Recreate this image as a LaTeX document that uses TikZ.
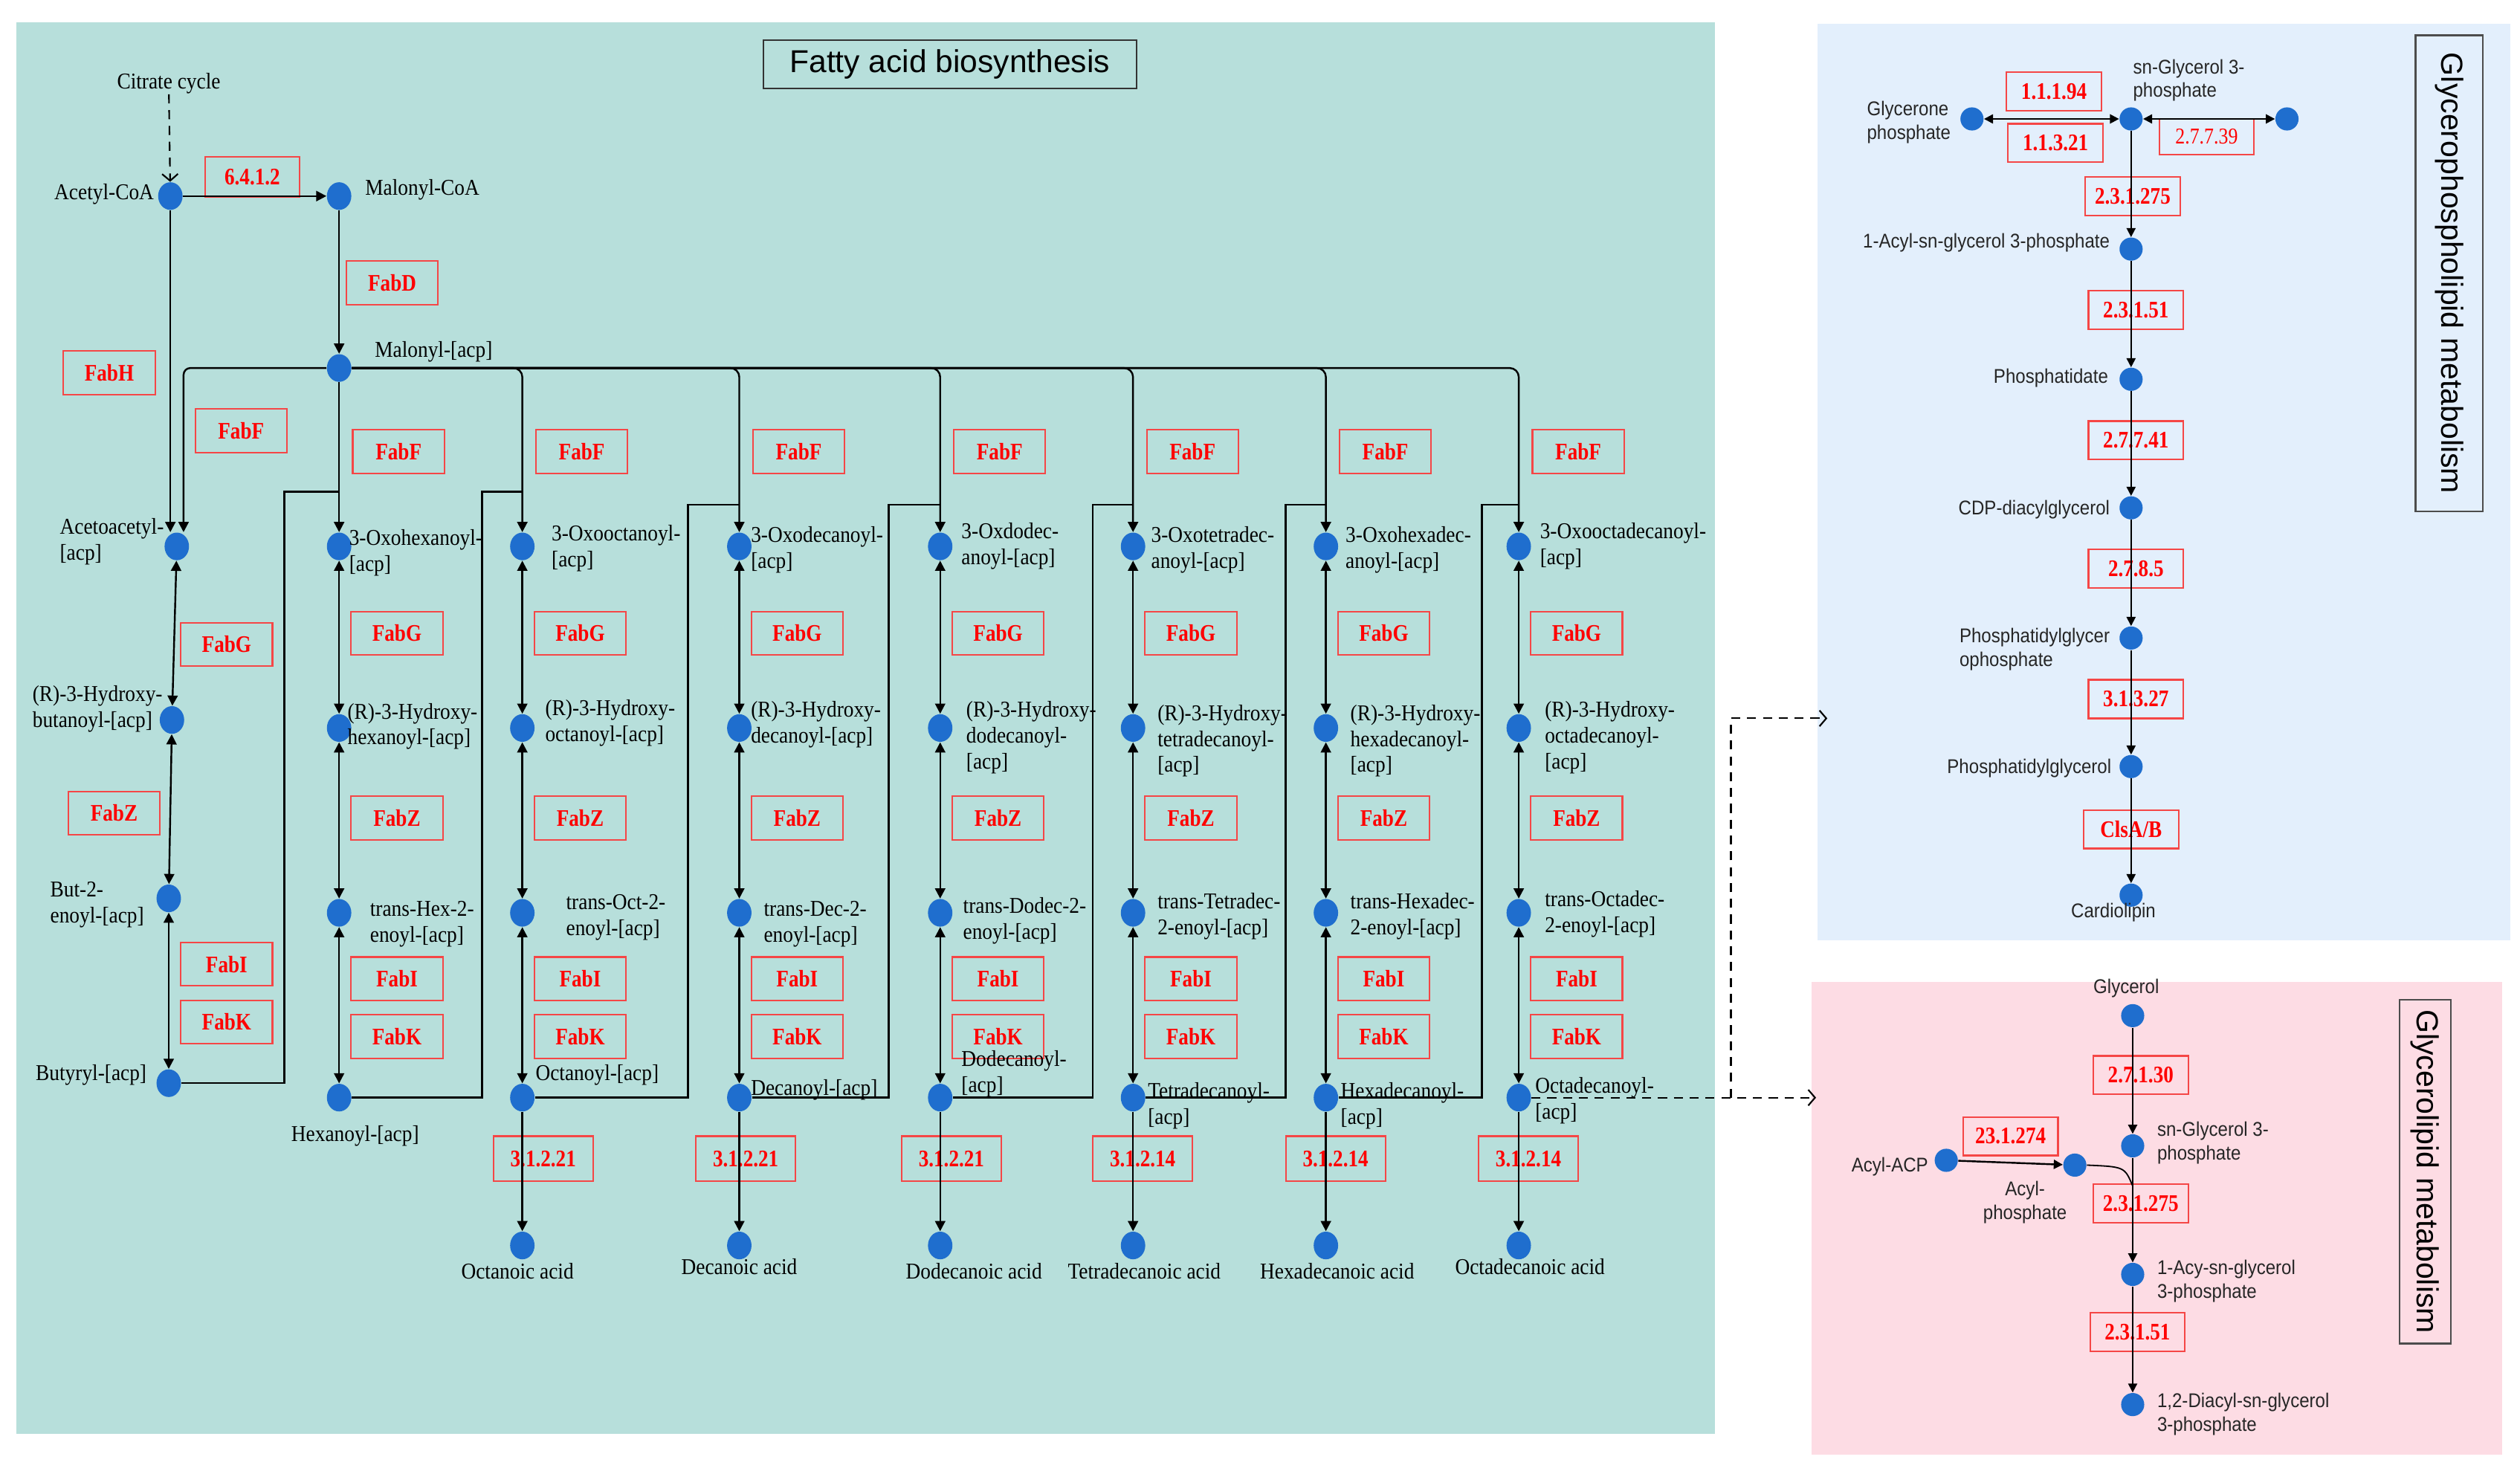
\documentclass[tikz,border=0pt]{standalone}
\usepackage{fontspec}
\setmainfont{Liberation Serif}
\setsansfont{Liberation Sans}
\newfontfamily\labfont[FakeStretch=0.9]{Liberation Serif}
\newfontfamily\enzfont[FakeStretch=0.85]{Liberation Serif}
\newfontfamily\rlabfont[FakeStretch=0.9]{Liberation Sans}
\usetikzlibrary{arrows.meta,
	shapes.geometric,
	calc,
	positioning}
\definecolor{fabbg}{RGB}{183,223,219}
\definecolor{gplbg}{RGB}{227,239,252}
\definecolor{glbg}{RGB}{253,220,228}
\definecolor{dotblue}{RGB}{31,110,206}
\definecolor{enzred}{RGB}{245,70,70}

\begin{document}
\begin{tikzpicture}[x=0.025cm,y=-0.025cm,
	dot/.style={ellipse,fill=dotblue,minimum width=0.38cm,minimum height=0.43cm,inner sep=0},
	rdot/.style={circle,fill=dotblue,minimum size=0.36cm,inner sep=0},
	enz/.style={draw=enzred,line width=0.7pt,text=red,font=\enzfont\bfseries\fontsize{10.5}{12}\selectfont,minimum width=1.425cm,minimum height=0.675cm,inner sep=0},
	ec/.style={enz,minimum width=1.475cm,minimum height=0.6cm},
	lab/.style={font=\labfont\fontsize{10}{11.5}\selectfont,align=left,inner sep=0},
	rlab/.style={font=\rlabfont\fontsize{8.8}{10.5}\selectfont,align=left,inner sep=0,text=black!85},
	fwd/.style={line width=0.8pt,-{Triangle[length=4.5pt,width=4.5pt]}},
	both/.style={line width=0.8pt,{Triangle[length=4.5pt,width=4.5pt]}-{Triangle[length=4.5pt,width=4.5pt]}},
	link/.style={line width=0.8pt},
	rfwd/.style={line width=0.6pt,-{Triangle[length=4pt,width=4pt]}},
	rboth/.style={line width=0.8pt,{Triangle[length=4pt,width=4pt]}-{Triangle[length=4pt,width=4pt]}},
	darr/.style={line width=0.7pt,dash pattern=on 4pt off 3pt,-{Straight Barb[length=3pt,width=7pt]}},
	vtitle/.style={draw=black!70,line width=0.7pt,rotate=-90,font=\sffamily\fontsize{13.5}{16}\selectfont}]
	\useasboundingbox (0,0) rectangle (1568,917);
	\fill[fabbg] (10,14) rectangle (1067,892);
	\fill[gplbg] (1131,15) rectangle (1562,585);
	\fill[glbg] (1127,611) rectangle (1557,905);
	\node[draw=black!80,line width=0.6pt,font=\sffamily\fontsize{14}{16}\selectfont,minimum width=5.8cm,minimum height=0.75cm] (title) at (591,40) {Fatty acid biosynthesis};

	% start of the chain
	\node[lab] (citrate) at (105,52) {Citrate cycle};
	\node[dot] (acetyl) at (106,122) {};
	\node[lab,anchor=east] (acetylt) at (96,121) {Acetyl-CoA};
	\node[dot] (malcoa) at (211,122) {};
	\node[lab,anchor=west] (malcoat) at (227,118) {Malonyl-CoA};
	\node[dot] (malacp) at (211,229) {};
	\node[lab,anchor=west] (malacpt) at (233,219) {Malonyl-[acp]};
	\node[enz,minimum width=1.475cm,minimum height=0.625cm] (e6412) at (157,110) {6.4.1.2};
	\node[enz] (fabD) at (244,176) {FabD};
	\node[enz] (fabH) at (68,232) {FabH};
	\node[enz] (fabF1) at (150,268) {FabF};
	\draw[darr] (citrate) -- (acetyl);
	\draw[fwd] (acetyl) -- (malcoa);
	\draw[fwd] (malcoa) -- (malacp);

	\node[dot] (acac) at (110,340) {};
	\node[dot] (hbut) at (107,448) {};
	\node[dot] (butenoyl) at (105,559) {};
	\node[dot] (buty) at (105,674) {};
	\node[lab,anchor=west] (acact) at (37,337) {Acetoacetyl-\\{}[acp]};
	\node[lab,anchor=west] (hbutt) at (20,441) {(R)-3-Hydroxy-\\butanoyl-[acp]};
	\node[lab,anchor=west] (butenoylt) at (31,563) {But-2-\\enoyl-[acp]};
	\node[lab,anchor=west] (butyt) at (22,669) {Butyryl-[acp]};
	\node[enz] (fabG1) at (141,401) {FabG};
	\node[enz] (fabZ1) at (71,506) {FabZ};
	\node[enz] (fabI1) at (141,600) {FabI};
	\node[enz] (fabK1) at (141,636) {FabK};
	\draw[fwd] (acetyl) -- (acetyl |- acac.north);
	\draw[fwd,rounded corners=3pt] (malacp.west) -| ([xshift=3pt]acac.north);
	\draw[both] (acac) -- (hbut);
	\draw[both] (hbut) -- (butenoyl);
	\draw[both] (butenoyl) -- (buty);

	% elongation cycles
	\foreach \c/\x in {2/211,3/325,4/460,5/585,6/705,7/825,8/945} {
		\node[dot] (oxo\c) at (\x,340) {};
		\node[dot] (hyd\c) at (\x,453) {};
		\node[dot] (en\c) at (\x,568) {};
		\node[dot] (acy\c) at (\x,683) {};
		\node[enz] (fabF\c) at (\x+37,281) {FabF};
		\node[enz] (fabG\c) at (\x+36,394) {FabG};
		\node[enz] (fabZ\c) at (\x+36,509) {FabZ};
		\node[enz] (fabI\c) at (\x+36,609) {FabI};
		\node[enz] (fabK\c) at (\x+36,645) {FabK};
		\draw[both] (oxo\c) -- (hyd\c);
		\draw[both] (hyd\c) -- (en\c);
		\draw[both] (en\c) -- (acy\c);
	}
	\foreach \c/\x/\ec/\ex in {3/325/3.1.2.21/338,4/460/3.1.2.21/464,5/585/3.1.2.21/592,6/705/3.1.2.14/711,7/825/3.1.2.14/831,8/945/3.1.2.14/951} {
		\node[dot] (acid\c) at (\x,775) {};
		\node[enz,minimum width=1.55cm,minimum height=0.7cm] (te\c) at (\ex,721) {\ec};
		\draw[fwd] (acy\c) -- (acid\c);
	}
	\draw[fwd] (malacp) -- (oxo2);
	\foreach \c in {3,...,8}
		\draw[fwd,rounded corners=4pt] (malacp.east) -| (oxo\c.north);
	\coordinate (j2) at (211,306);
	\draw[link] (buty.east) -| (177,306) -- (j2);
	\foreach \c/\n/\xl/\yt/\xn in {2/3/300/306/325,3/4/428/314/460,4/5/553/314/585,5/6/680/314/705,6/7/800/314/825,7/8/922/314/945} {
		\coordinate (j\n) at (\xn,\yt);
		\draw[link] (acy\c.east) -| (\xl,\yt) -- (j\n);
	}

	\node[lab,anchor=west] (oxo2t) at (217,344) {3-Oxohexanoyl-\\{}[acp]};
	\node[lab,anchor=west] (hyd2t) at (216,452) {(R)-3-Hydroxy-\\hexanoyl-[acp]};
	\node[lab,anchor=west] (en2t) at (230,575) {trans-Hex-2-\\enoyl-[acp]};
	\node[lab] (acy2t) at (221,707) {Hexanoyl-[acp]};

	\node[lab,anchor=west] (oxo3t) at (343,341) {3-Oxooctanoyl-\\{}[acp]};
	\node[lab,anchor=west] (hyd3t) at (339,450) {(R)-3-Hydroxy-\\octanoyl-[acp]};
	\node[lab,anchor=west] (en3t) at (352,571) {trans-Oct-2-\\enoyl-[acp]};
	\node[lab,anchor=west] (acy3t) at (333,669) {Octanoyl-[acp]};
	\node[lab] (acid3t) at (322,791) {Octanoic acid};

	\node[lab,anchor=west] (oxo4t) at (467,342) {3-Oxodecanoyl-\\{}[acp]};
	\node[lab,anchor=west] (hyd4t) at (467,451) {(R)-3-Hydroxy-\\decanoyl-[acp]};
	\node[lab,anchor=west] (en4t) at (475,575) {trans-Dec-2-\\enoyl-[acp]};
	\node[lab,anchor=west] (acy4t) at (467,678) {Decanoyl-[acp]};
	\node[lab] (acid4t) at (460,788) {Decanoic acid};

	\node[lab,anchor=west] (oxo5t) at (598,340) {3-Oxdodec-\\anoyl-[acp]};
	\node[lab,anchor=west] (hyd5t) at (601,459) {(R)-3-Hydroxy-\\dodecanoyl-\\{}[acp]};
	\node[lab,anchor=west] (en5t) at (599,573) {trans-Dodec-2-\\enoyl-[acp]};
	\node[lab,anchor=west] (acy5t) at (598,668) {Dodecanoyl-\\{}[acp]};
	\node[lab] (acid5t) at (606,791) {Dodecanoic acid};

	\node[lab,anchor=west] (oxo6t) at (716,342) {3-Oxotetradec-\\anoyl-[acp]};
	\node[lab,anchor=west] (hyd6t) at (720,461) {(R)-3-Hydroxy-\\tetradecanoyl-\\{}[acp]};
	\node[lab,anchor=west] (en6t) at (720,570) {trans-Tetradec-\\2-enoyl-[acp]};
	\node[lab,anchor=west] (acy6t) at (714,688) {Tetradecanoyl-\\{}[acp]};
	\node[lab] (acid6t) at (712,791) {Tetradecanoic acid};

	\node[lab,anchor=west] (oxo7t) at (837,342) {3-Oxohexadec-\\anoyl-[acp]};
	\node[lab,anchor=west] (hyd7t) at (840,461) {(R)-3-Hydroxy-\\hexadecanoyl-\\{}[acp]};
	\node[lab,anchor=west] (en7t) at (840,570) {trans-Hexadec-\\2-enoyl-[acp]};
	\node[lab,anchor=west] (acy7t) at (834,688) {Hexadecanoyl-\\{}[acp]};
	\node[lab] (acid7t) at (832,791) {Hexadecanoic acid};

	\node[lab,anchor=west] (oxo8t) at (958,340) {3-Oxooctadecanoyl-\\{}[acp]};
	\node[lab,anchor=west] (hyd8t) at (961,459) {(R)-3-Hydroxy-\\octadecanoyl-\\{}[acp]};
	\node[lab,anchor=west] (en8t) at (961,569) {trans-Octadec-\\2-enoyl-[acp]};
	\node[lab,anchor=west] (acy8t) at (955,685) {Octadecanoyl-\\{}[acp]};
	\node[lab] (acid8t) at (952,788) {Octadecanoic acid};

	% links to the other pathways
	\coordinate (dsplit) at (1077,683);
	\coordinate (toGL) at (1130,683);
	\coordinate (toGP) at (1137,447);
	\draw[darr] (acy8.east) -- (toGL);
	\draw[darr] (dsplit) |- (toGP);

	% glycerophospholipid metabolism
	\node[rdot] (g3p) at (1326,74) {};
	\node[rdot] (dhap) at (1227,74) {};
	\node[rdot] (g3px) at (1423,74) {};
	\node[rdot] (acylg3p) at (1326,155) {};
	\node[rdot] (pa) at (1326,236) {};
	\node[rdot] (cdp) at (1326,316) {};
	\node[rdot] (pgp) at (1326,397) {};
	\node[rdot] (pg) at (1326,477) {};
	\node[rdot] (cl) at (1326,557) {};
	\node[rlab,anchor=west] (g3pt) at (1327,50) {sn-Glycerol 3-\\phosphate};
	\node[rlab,anchor=east] (dhapt) at (1214,76) {Glycerone\\phosphate};
	\node[rlab,anchor=east] (acylg3pt) at (1313,151) {1-Acyl-sn-glycerol 3-phosphate};
	\node[rlab,anchor=east] (pat) at (1312,235) {Phosphatidate};
	\node[rlab,anchor=east] (cdpt) at (1313,317) {CDP-diacylglycerol};
	\node[rlab,anchor=east] (pgpt) at (1313,404) {Phosphatidylglycer\\ophosphate};
	\node[rlab,anchor=east] (pgt) at (1314,478) {Phosphatidylglycerol};
	\node[rlab] (clt) at (1315,568) {Cardiolipin};
	\node[ec] (e11194) at (1278,57) {1.1.1.94};
	\node[ec] (e11321) at (1279,89) {1.1.3.21};
	\node[ec,font=\enzfont\fontsize{10}{12}\selectfont,minimum height=0.55cm] (e27739) at (1373,85) {2.7.7.39};
	\node[ec] (e231275a) at (1327,122) {2.3.1.275};
	\node[ec] (e23151a) at (1329,193) {2.3.1.51};
	\node[ec] (e27741) at (1329,274) {2.7.7.41};
	\node[ec] (e2785) at (1329,354) {2.7.8.5};
	\node[ec] (e31327) at (1329,435) {3.1.3.27};
	\node[ec] (clsab) at (1326,516) {ClsA/B};
	\draw[rboth] (dhap) -- (g3p);
	\draw[rboth] (g3p) -- (g3px);
	\draw[rfwd] (g3p) -- (acylg3p);
	\draw[rfwd] (acylg3p) -- (pa);
	\draw[rfwd] (pa) -- (cdp);
	\draw[rfwd] (cdp) -- (pgp);
	\draw[rfwd] (pgp) -- (pg);
	\draw[rfwd] (pg) -- (cl);
	\node[vtitle,minimum width=7.4cm,minimum height=1.05cm] (gpltitle) at (1524,170) {Glycerophospholipid metabolism};

	% glycerolipid metabolism
	\node[rdot] (glyc) at (1327,632) {};
	\node[rdot] (g3pb) at (1327,713) {};
	\node[rdot] (acp) at (1211,722) {};
	\node[rdot] (acylp) at (1291,725) {};
	\node[rdot] (lpa) at (1327,793) {};
	\node[rdot] (dag) at (1327,874) {};
	\node[rlab] (glyct) at (1323,615) {Glycerol};
	\node[rlab,anchor=west] (g3pbt) at (1342,711) {sn-Glycerol 3-\\phosphate};
	\node[rlab,anchor=east] (acpt) at (1200,726) {Acyl-ACP};
	\node[rlab,align=center] (acylpt) at (1260,748) {Acyl-\\phosphate};
	\node[rlab,anchor=west] (lpat) at (1342,797) {1-Acy-sn-glycerol\\3-phosphate};
	\node[rlab,anchor=west] (dagt) at (1342,880) {1,2-Diacyl-sn-glycerol\\3-phosphate};
	\node[ec] (e27130) at (1332,669) {2.7.1.30};
	\node[ec] (e231274) at (1251,707) {23.1.274};
	\node[ec] (e231275b) at (1332,749) {2.3.1.275};
	\node[ec] (e23151b) at (1330,829) {2.3.1.51};
	\coordinate (jn) at (1327,738);
	\draw[rfwd] (glyc) -- (g3pb);
	\draw[rfwd] (g3pb) -- (lpa);
	\draw[rfwd] (lpa) -- (dag);
	\draw[rfwd,line width=0.8pt] (acp) -- (acylp);
	\draw[line width=0.6pt] (acylp.east) .. controls (1322,726) .. (jn);
	\node[vtitle,minimum width=5.35cm,minimum height=0.8cm] (gltitle) at (1509,729) {Glycerolipid metabolism};
\end{tikzpicture}
\end{document}
